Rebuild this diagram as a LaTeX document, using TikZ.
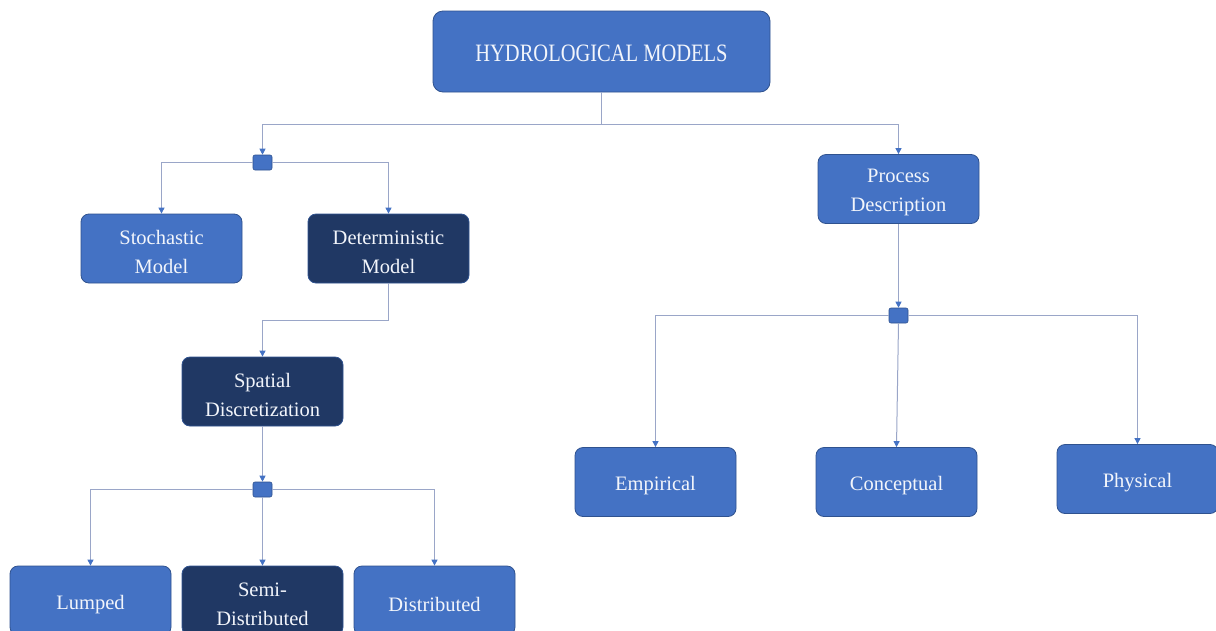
\documentclass[tikz,border=0pt]{standalone}
\usepackage{fontspec}
\setmainfont{Liberation Serif}
\newfontfamily\condfont[FakeStretch=0.82]{Liberation Serif}
\usetikzlibrary{arrows.meta}
\definecolor{boxblue}{HTML}{4472C4}
\definecolor{boxedge}{HTML}{2F528F}
\definecolor{boxdark}{HTML}{203864}
\definecolor{linecol}{HTML}{9AA6C8}
\definecolor{txtcol}{HTML}{F2F5FB}
\tikzset{
  box/.style={draw=boxedge, line width=0.8pt, rounded corners=8pt, fill=boxblue,
    minimum width=161pt, minimum height=69pt, align=center, text=txtcol,
    inner sep=0pt, text height=22pt, font=\fontsize{20.5}{29}\selectfont},
  twoline/.style={text height=50pt},
  darkbox/.style={box, fill=boxdark, draw=boxedge},
  joint/.style={draw=boxedge, line width=0.6pt, rounded corners=2pt, fill=boxblue,
    minimum width=19pt, minimum height=15pt, inner sep=0pt},
  conn/.style={draw=linecol, line width=1pt},
  arr/.style={conn, -{Triangle[length=6pt,width=6pt,color=boxblue]}}
}
\begin{document}
\begin{tikzpicture}[x=1pt,y=-1pt]
\useasboundingbox[fill=white] (0,0) rectangle (1216,630);
% nodes
\node[box, minimum width=337pt, minimum height=81pt, rounded corners=10pt, text height=20.5pt,
  font=\condfont\fontsize{25}{29}\selectfont] (top) at (601.5,51.5) {HYDROLOGICAL MODELS};
\node[joint] (sq1) at (262.5,162.5) {};
\node[box, twoline] (stoch) at (161.5,248.5) {Stochastic\\Model};
\node[darkbox, twoline] (det) at (388.5,248.5) {Deterministic\\Model};
\node[darkbox, twoline] (spat) at (262.5,391.5) {Spatial\\Discretization};
\node[joint] (sq2) at (262.5,489.5) {};
\node[box] (lump) at (90.5,600.5) {Lumped};
\node[darkbox, twoline] (semi) at (262.5,600.5) {Semi-\\Distributed};
\node[box] (dist) at (434.5,600.5) {Distributed};
\node[box, twoline] (proc) at (898.5,189) {Process\\Description};
\node[joint] (sq3) at (898.5,315.5) {};
\node[box] (emp) at (655.5,482) {Empirical};
\node[box] (conc) at (896.5,482) {Conceptual};
\node[box] (phys) at (1137.5,479) {Physical};
% connectors
\coordinate (j1) at (601.5,124);
\coordinate (k1) at (262.5,320);
\draw[conn] (top.south) -- (j1);
\draw[arr] (j1) -| (sq1.north);
\draw[arr] (j1) -| (proc.north);
\draw[arr] (sq1.west) -| (stoch.north);
\draw[arr] (sq1.east) -| (det.north);
\draw[arr] (det.south) |- (k1) -- (spat.north);
\draw[arr] (spat.south) -- (sq2.north);
\draw[arr] (sq2.west) -| (lump.north);
\draw[arr] (sq2.south) -- (semi.north);
\draw[arr] (sq2.east) -| (dist.north);
\draw[arr] (proc.south) -- (sq3.north);
\draw[arr] (sq3.west) -| (emp.north);
\draw[arr] (sq3.south) -- (conc.north);
\draw[arr] (sq3.east) -| (phys.north);
\end{tikzpicture}
\end{document}
